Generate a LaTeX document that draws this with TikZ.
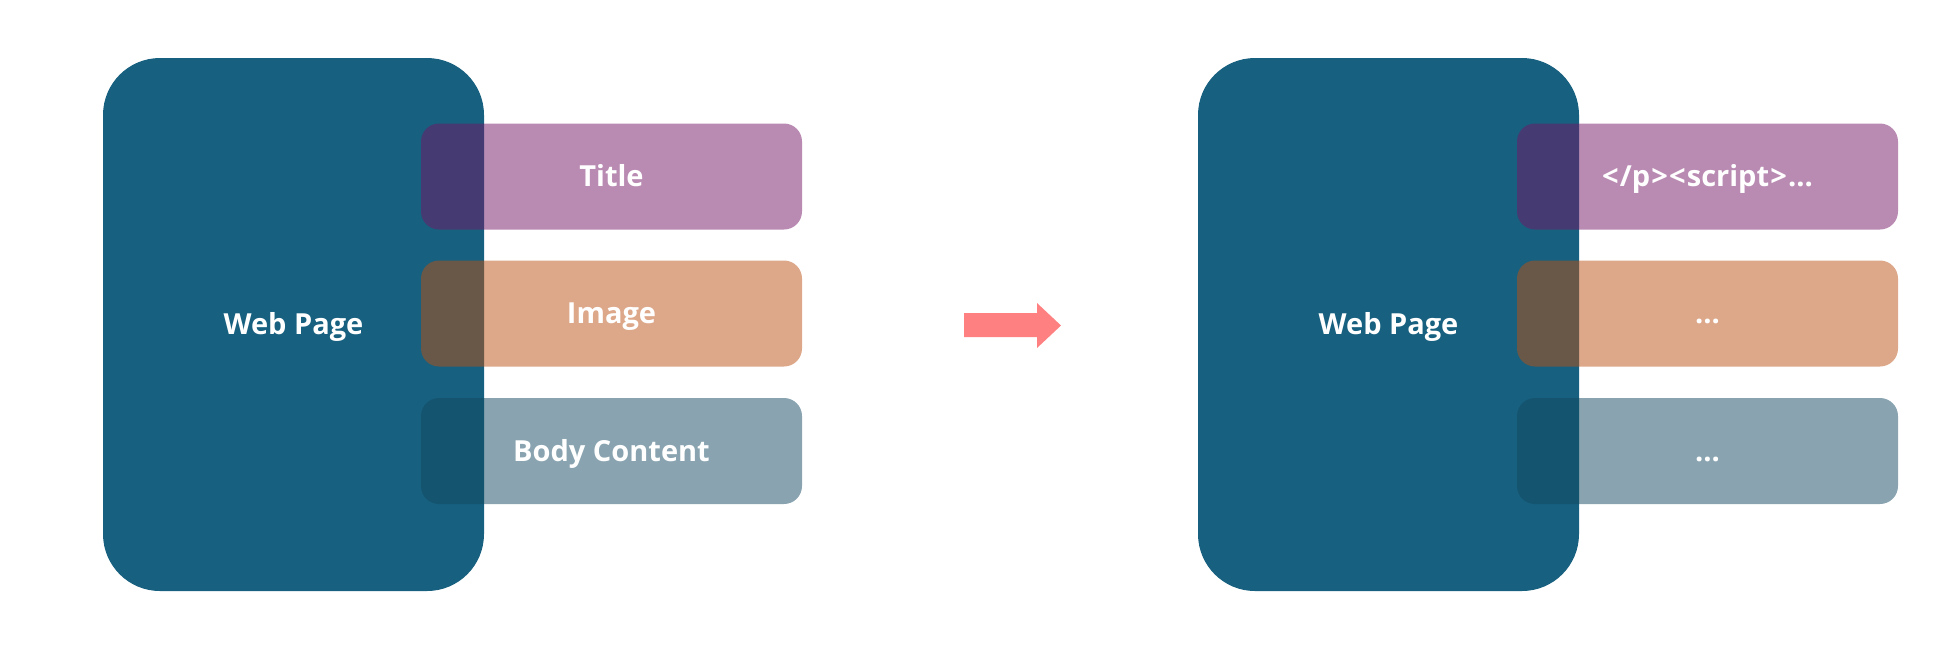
\documentclass[tikz,border=0pt]{standalone}
\usepackage{fontspec}
\setmainfont{Open Sans}
\definecolor{pagec}{RGB}{23,96,127}
\definecolor{titlec}{RGB}{116,23,102}
\definecolor{imagec}{RGB}{187,79,19}
\definecolor{bodyc}{RGB}{19,73,97}
\definecolor{arrowc}{RGB}{255,128,128}
\tikzset{
  lbl/.style={text=white, font=\fontsize{14.5}{17}\selectfont\bfseries, text height=10.4pt, text depth=0pt},
  page/.style={lbl, fill=pagec, rounded corners=28.5pt, minimum width=190.5pt, minimum height=266.5pt, inner sep=0pt},
  bar/.style={lbl, rounded corners=9pt, minimum width=190.5pt, minimum height=53pt, inner sep=0pt, fill opacity=0.5, text opacity=1},
}
\begin{document}
\begin{tikzpicture}[x=0.5pt,y=-0.5pt]
\useasboundingbox (0,0) rectangle (1940,645);
% left
\node[page] (pageL) at (293.5,324.5) {Web Page};
\node[bar, fill=titlec] (titleL) at (611.5,176.5) {Title};
\node[bar, fill=imagec] (imageL) at (611.5,313.5) {Image};
\node[bar, fill=bodyc] (bodyL) at (611.5,451) {Body Content};
% arrow
\fill[arrowc] (964,313) -- (1037,313) -- (1037,303) -- (1061,325.5) -- (1037,348) -- (1037,337) -- (964,337) -- cycle;
% right
\node[page] (pageR) at (1388.5,324.5) {Web Page};
\node[bar, fill=titlec] (titleR) at (1707.5,176.5) {<\kern0.6pt/p\kern0.6pt>\kern0.6pt<\kern0.6pt script\kern0.6pt>\kern0.6pt...};
\node[bar, fill=imagec] (imageR) at (1707.5,313.5) {...};
\node[bar, fill=bodyc] (bodyR) at (1707.5,451) {...};
\end{tikzpicture}
\end{document}
